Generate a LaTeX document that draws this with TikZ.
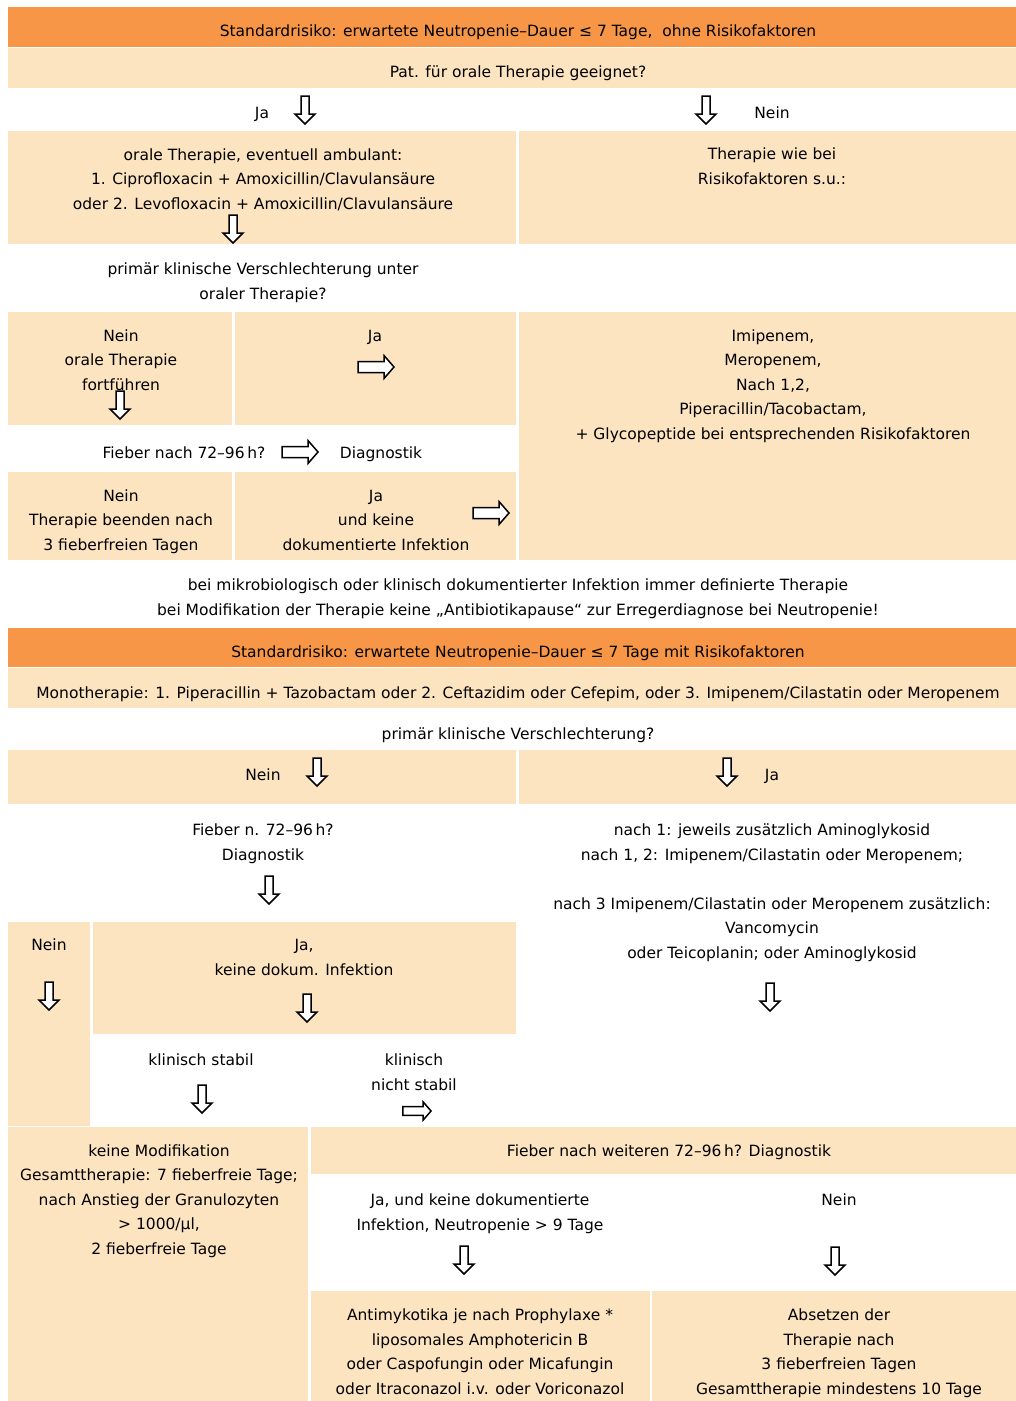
\documentclass[tikz,border=0pt]{standalone}
\usepackage{fontspec}
\setmainfont{DejaVu Sans}
\definecolor{hdorange}{HTML}{F79646}
\definecolor{peach}{HTML}{FCE4C0}
\begin{document}
\begin{tikzpicture}[x=1pt,y=-1pt,
    txt/.style={align=center,inner sep=0pt,anchor=base,yshift=-1pt,font=\fontsize{15.5}{24.5}\selectfont},
    box/.style={fill=peach},
    head/.style={fill=hdorange},
    darr/.pic={\draw[line width=1.5pt,fill=white] (-4,-14) -- (4,-14) -- (4,4) -- (10,4) -- (0,14) -- (-10,4) -- (-4,4) -- cycle;},
    rarr/.pic={\draw[line width=1.5pt,fill=white] (-18,-5.5) -- (8,-5.5) -- (8,-11.5) -- (18,0) -- (8,11.5) -- (8,5.5) -- (-18,5.5) -- cycle;}]

      \useasboundingbox (0,0) rectangle (1016,1401);

      % part 1: ohne Risikofaktoren
      \fill[head] (8,7) rectangle (1016,47);
      \fill[box] (8,48) rectangle (1016,88);
      \fill[box] (8,131) rectangle (516,244);
      \fill[box] (519,131) rectangle (1016,244);
      \fill[box] (8,312) rectangle (232,425);
      \fill[box] (235,312) rectangle (516,425);
      \fill[box] (519,312) rectangle (1016,560);
      \fill[box] (8,472) rectangle (232,560);
      \fill[box] (235,472) rectangle (516,560);

      % base = baseline of the last line
      \node[txt] (std1) at (518,35) {Standardrisiko: erwartete Neutropenie–Dauer ≤ 7 Tage,\ \ ohne Risikofaktoren};
      \node[txt] (oral) at (518,76) {Pat. für orale Therapie geeignet?};
      \node[txt] (ja1) at (262,117) {Ja};
      \node[txt] (nein1) at (772,117) {Nein};
      \node[txt] (ambu) at (263,208) {orale Therapie, eventuell ambulant:\\1. Ciprofloxacin + Amoxicillin/Clavulansäure\\oder 2. Levofloxacin + Amoxicillin/Clavulansäure};
      \node[txt] (wiebei) at (772,183) {Therapie wie bei\\Risikofaktoren s.u.:};
      \node[txt] (versch1) at (263,298) {primär klinische Verschlechterung unter\\oraler Therapie?};
      \node[txt] (fortf) at (121,389) {Nein\\orale Therapie\\fortführen};
      \node[txt] (ja2) at (375,340) {Ja};
      \node[txt] (imi) at (773,438) {Imipenem,\\Meropenem,\\Nach 1,2,\\Piperacillin/Tacobactam,\\+ Glycopeptide bei entsprechenden Risikofaktoren};
      \node[txt] (fieber1) at (184,457) {Fieber nach 72–96\,h?};
      \node[txt] (diag1) at (381,457) {Diagnostik};
      \node[txt] (beenden) at (121,549) {Nein\\Therapie beenden nach\\3 fieberfreien Tagen};
      \node[txt] (keinedok) at (376,549) {Ja\\und keine\\dokumentierte Infektion};
      \node[txt] (hinweis) at (518,614) {bei mikrobiologisch oder klinisch dokumentierter Infektion immer definierte Therapie\\bei Modifikation der Therapie keine „Antibiotikapause“ zur Erregerdiagnose bei Neutropenie!};

      \pic (a1) at (305,110) {darr};
      \pic (a2) at (706,110) {darr};
      \pic (a3) at (233,229) {darr};
      \pic (a4) at (120,405) {darr};
      \pic (a5) at (376,367) {rarr};
      \pic (a6) at (300,452) {rarr};
      \pic (a7) at (491,513) {rarr};

      % part 2: mit Risikofaktoren
      \fill[head] (8,628) rectangle (1016,667);
      \fill[box] (8,668) rectangle (1016,708);
      \fill[box] (8,750) rectangle (516,804);
      \fill[box] (519,750) rectangle (1016,804);
      \fill[box] (8,922) rectangle (90,1126);
      \fill[box] (93,922) rectangle (516,1034);
      \fill[box] (8,1127) rectangle (308,1401);
      \fill[box] (311,1127) rectangle (1016,1174);
      \fill[box] (311,1291) rectangle (650,1401);
      \fill[box] (652,1291) rectangle (1016,1401);

      \node[txt] (std2) at (518,656) {Standardrisiko: erwartete Neutropenie–Dauer ≤ 7 Tage mit Risikofaktoren};
      \node[txt] (mono) at (518,697) {Monotherapie: 1. Piperacillin + Tazobactam oder 2. Ceftazidim oder Cefepim, oder 3. Imipenem/Cilastatin oder Meropenem};
      \node[txt] (versch2) at (518,738) {primär klinische Verschlechterung?};
      \node[txt] (nein3) at (263,779) {Nein};
      \node[txt] (ja3) at (772,779) {Ja};
      \node[txt] (fieber2) at (263,859) {Fieber n. 72–96\,h?\\Diagnostik};
      \node[txt] (zusatz) at (772,957) {nach 1: jeweils zusätzlich Aminoglykosid\\nach 1, 2: Imipenem/Cilastatin oder Meropenem;\\[24.5pt]nach 3 Imipenem/Cilastatin oder Meropenem zusätzlich:\\Vancomycin\\oder Teicoplanin; oder Aminoglykosid};
      \node[txt] (nein4) at (49,949) {Nein};
      \node[txt] (ja4) at (304,974) {Ja,\\keine dokum. Infektion};
      \node[txt] (stabil) at (201,1064) {klinisch stabil};
      \node[txt] (nstabil) at (414,1089) {klinisch\\nicht stabil};
      \node[txt] (keinemod) at (159,1253) {keine Modifikation\\Gesamttherapie: 7 fieberfreie Tage;\\nach Anstieg der Granulozyten\\> 1000/µl,\\2 fieberfreie Tage};
      \node[txt] (fieber3) at (669,1155) {Fieber nach weiteren 72–96\,h? Diagnostik};
      \node[txt] (ja5) at (480,1229) {Ja, und keine dokumentierte\\Infektion, Neutropenie > 9 Tage};
      \node[txt] (nein5) at (839,1204) {Nein};
      \node[txt] (antimyk) at (480,1393) {Antimykotika je nach Prophylaxe *\\liposomales Amphotericin B\\oder Caspofungin oder Micafungin\\oder Itraconazol i.v. oder Voriconazol};
      \node[txt] (absetzen) at (839,1393) {Absetzen der\\Therapie nach\\3 fieberfreien Tagen\\Gesamttherapie mindestens 10 Tage};

      \pic (b1) at (317,772) {darr};
      \pic (b2) at (727,772) {darr};
      \pic (b3) at (269,890) {darr};
      \pic (b4) at (770,997) {darr};
      \pic (b5) at (49,996) {darr};
      \pic (b6) at (307,1008) {darr};
      \pic (b7) at (202,1099) {darr};
      \pic (b8) at (464,1260) {darr};
      \pic (b9) at (835,1261) {darr};
      \pic[scale=0.78] (b10) at (417,1111) {rarr};

\end{tikzpicture}
\end{document}
